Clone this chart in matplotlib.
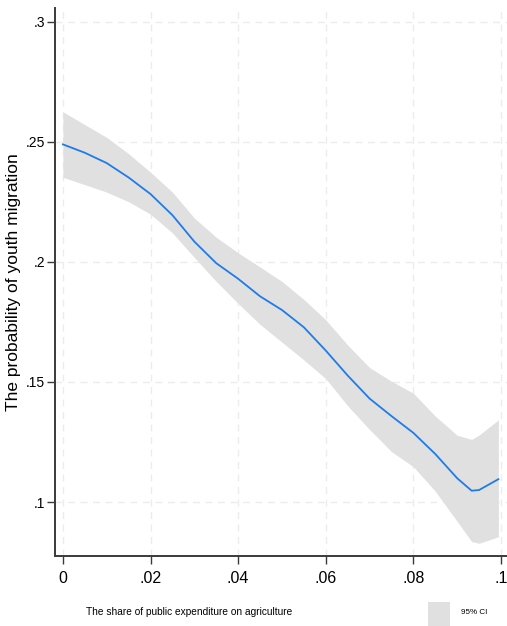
import matplotlib.pyplot as plt
from matplotlib.patches import Rectangle

# share of public expenditure on agriculture
x = [0, 0.005, 0.01, 0.015, 0.02, 0.025, 0.03, 0.035, 0.04, 0.045, 0.05,
     0.055, 0.06, 0.065, 0.07, 0.075, 0.08, 0.085, 0.09, 0.0933, 0.095, 0.0994]
# predicted probability of youth migration
pred = [0.249, 0.2455, 0.2412, 0.2352, 0.2283, 0.2195, 0.2085, 0.1995, 0.1930, 0.1857, 0.1800,
        0.1728, 0.1631, 0.1527, 0.1431, 0.1358, 0.1288, 0.1200, 0.1099, 0.1047, 0.1050, 0.1095]
ci_hi = [0.2626, 0.2572, 0.2519, 0.2451, 0.2374, 0.2291, 0.2183, 0.2103, 0.2038, 0.1979, 0.1919,
         0.1844, 0.1759, 0.1654, 0.1560, 0.1503, 0.1453, 0.1358, 0.1278, 0.1261, 0.1279, 0.1342]
ci_lo = [0.2353, 0.2322, 0.2291, 0.2251, 0.2199, 0.2121, 0.2019, 0.1919, 0.1827, 0.1740, 0.1666,
         0.1592, 0.1514, 0.1401, 0.1302, 0.1210, 0.1147, 0.1045, 0.0919, 0.0835, 0.0828, 0.0855]

xticks = [0, 0.02, 0.04, 0.06, 0.08, 0.1]
xticklabels = ['0', '.02', '.04', '.06', '.08', '.1']
yticks = [0.1, 0.15, 0.2, 0.25, 0.3]
yticklabels = ['.1', '.15', '.2', '.25', '.3']

fam = ['Liberation Sans', 'DejaVu Sans']

fig = plt.figure(figsize=(5.07, 6.26), dpi=100)
ax = fig.add_axes([0.1085, 0.1118, 0.8915, 0.8754])

ax.fill_between(x, ci_lo, ci_hi, color='#e0e0e0', linewidth=0, zorder=2)
ax.plot(x, pred, color='#1f7be8', linewidth=1.3, zorder=3)

ax.set_xlim(-0.0018, 0.10137)
ax.set_ylim(0.0775, 0.3058)

ax.set_xticks(xticks)
ax.set_xticklabels(xticklabels, family=fam, fontsize=11.5)
ax.set_yticks(yticks)
ax.set_yticklabels(yticklabels, family=fam, fontsize=10)

ax.grid(True, color='#ececec', linestyle=(0, (5, 4)), linewidth=1.0, zorder=1)
ax.set_axisbelow(True)

for s in ['top', 'right']:
    ax.spines[s].set_visible(False)
for s in ['left', 'bottom']:
    ax.spines[s].set_color('#3a3a3a')
    ax.spines[s].set_linewidth(1.4)
ax.tick_params(axis='both', direction='out', length=6, width=1.0, color='#3a3a3a')
ax.tick_params(axis='x', pad=5)
ax.tick_params(axis='y', pad=1)

ax.set_ylabel('The probability of youth migration', family=fam, fontsize=12.5)
ax.yaxis.set_label_coords(-34 / 452, (626 - 70 - 282) / 548)

fig.text(86 / 507, 1 - 612 / 626, 'The share of public expenditure on agriculture',
         family=fam, fontsize=7.3, ha='left', va='center')

# legend
fig.patches.append(Rectangle((428 / 507, 0), 22 / 507, 24 / 626, transform=fig.transFigure,
                             facecolor='#e0e0e0', edgecolor='none'))
fig.text(461 / 507, 1 - 612 / 626, '95% CI', family=fam, fontsize=5.8, ha='left', va='center')

fig.savefig('out.png', dpi=100)
